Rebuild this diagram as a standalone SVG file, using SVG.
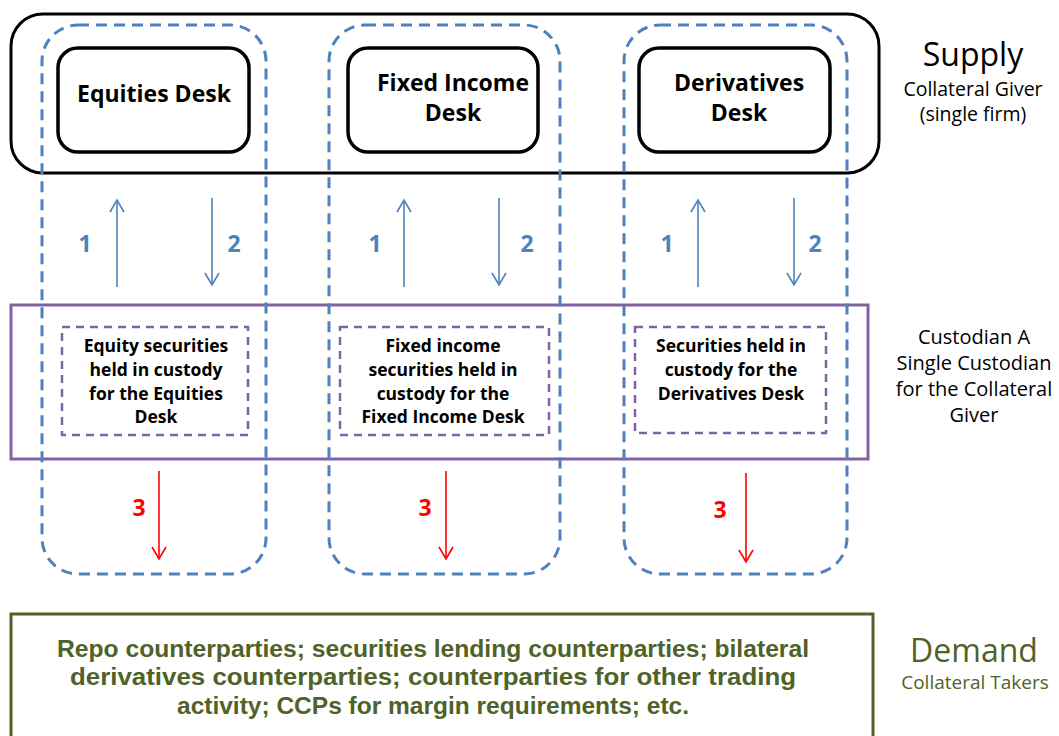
<svg xmlns="http://www.w3.org/2000/svg" width="1059" height="736" viewBox="0 0 1059 736">
<defs>
<style>
.desk{fill:#fff;stroke:#000;stroke-width:3.5}
.col{fill:none;stroke:#4F81BD;stroke-width:3;stroke-dasharray:11 7}
.inner{fill:none;stroke:#8064A2;stroke-width:2.5;stroke-dasharray:8 6}
.dt{font-family:"Open Sans","DejaVu Sans",sans-serif;font-weight:bold;font-size:23px;fill:#000;text-anchor:middle}
.it{font-family:"Open Sans","DejaVu Sans",sans-serif;font-weight:bold;font-size:17.5px;fill:#000;text-anchor:middle}
.side{font-family:"Open Sans","DejaVu Sans",sans-serif;fill:#000;text-anchor:middle}
.bl{font-family:"Open Sans","DejaVu Sans",sans-serif;font-weight:bold;font-size:23px;fill:#4F81BD;text-anchor:middle}
.rl{font-family:"Open Sans","DejaVu Sans",sans-serif;font-weight:bold;font-size:23px;fill:#FF0000;text-anchor:middle}
.ba{stroke:#4F81BD;stroke-width:1.6;fill:none;marker-end:url(#ab)}
.ra{stroke:#FF0000;stroke-width:1.6;fill:none;marker-end:url(#ar)}
.dem{font-family:"Liberation Sans","Open Sans",sans-serif;font-weight:bold;font-size:23px;fill:#4F6228;text-anchor:middle}
</style>
<marker id="ab" viewBox="0 0 16 16" refX="14" refY="8" markerWidth="16" markerHeight="16" markerUnits="userSpaceOnUse" orient="auto"><path d="M2 1 L14 8 L2 15" fill="none" stroke="#4F81BD" stroke-width="1.6"/></marker>
<marker id="ar" viewBox="0 0 16 16" refX="14" refY="8" markerWidth="16" markerHeight="16" markerUnits="userSpaceOnUse" orient="auto"><path d="M2 1 L14 8 L2 15" fill="none" stroke="#FF0000" stroke-width="1.6"/></marker>
</defs>
<rect width="1059" height="736" fill="#fff"/>

<g id="supply">
<rect x="11" y="14" width="868" height="159" rx="32" fill="none" stroke="#000" stroke-width="3"/>
<text class="side" x="973" y="66" font-size="32">Supply</text>
<text class="side" x="973" y="96" font-size="19.5">Collateral Giver</text>
<text class="side" x="973" y="121" font-size="19.5">(single firm)</text>
</g>

<g id="custodian">
<rect x="11" y="305" width="857" height="154" fill="none" stroke="#8064A2" stroke-width="3"/>
<text class="side" x="974" y="344" font-size="20">Custodian A</text>
<text class="side" x="974" y="370" font-size="20">Single Custodian</text>
<text class="side" x="974" y="396" font-size="20">for the Collateral</text>
<text class="side" x="974" y="422" font-size="20">Giver</text>
</g>

<g id="demand">
<rect x="11" y="614" width="862" height="140" fill="none" stroke="#4F6228" stroke-width="3"/>
<text class="dem" x="433" y="657" textLength="752" lengthAdjust="spacingAndGlyphs">Repo counterparties; securities lending counterparties; bilateral</text>
<text class="dem" x="433" y="685" textLength="726" lengthAdjust="spacingAndGlyphs">derivatives counterparties; counterparties for other trading</text>
<text class="dem" x="433" y="714" textLength="512" lengthAdjust="spacingAndGlyphs">activity; CCPs for margin requirements; etc.</text>
<text class="side" x="974" y="662" font-size="32" style="fill:#4F6228">Demand</text>
<text class="side" x="975" y="689" font-size="19" style="fill:#4F6228">Collateral Takers</text>
</g>

<g id="col-equities">
<rect class="col" x="42" y="25" width="224" height="549" rx="36"/>
</g>
<g id="col-fixed">
<rect class="col" x="329" y="25" width="231" height="549" rx="36"/>
</g>
<g id="col-derivatives">
<rect class="col" x="624" y="25" width="223" height="549" rx="36"/>
</g>

<g id="equities-desk">
<rect class="desk" x="58" y="48" width="191" height="104" rx="20"/>
<text class="dt" x="154" y="102">Equities Desk</text>
</g>
<g id="fixed-income-desk">
<rect class="desk" x="348" y="48" width="190" height="104" rx="20"/>
<text class="dt" x="453" y="91">Fixed Income</text>
<text class="dt" x="453" y="121">Desk</text>
</g>
<g id="derivatives-desk">
<rect class="desk" x="639" y="48" width="191" height="104" rx="20"/>
<text class="dt" x="739" y="91">Derivatives</text>
<text class="dt" x="739" y="121">Desk</text>
</g>

<g id="equity-custody">
<rect class="inner" x="62" y="327" width="186" height="108"/>
<text class="it" x="156" y="352">Equity securities</text>
<text class="it" x="156" y="376">held in custody</text>
<text class="it" x="156" y="400">for the Equities</text>
<text class="it" x="156" y="423">Desk</text>
</g>
<g id="fixed-custody">
<rect class="inner" x="340" y="327" width="209" height="108"/>
<text class="it" x="443" y="352">Fixed income</text>
<text class="it" x="443" y="376">securities held in</text>
<text class="it" x="443" y="400">custody for the</text>
<text class="it" x="443" y="423">Fixed Income Desk</text>
</g>
<g id="derivatives-custody">
<rect class="inner" x="635" y="327" width="191" height="106"/>
<text class="it" x="731" y="352">Securities held in</text>
<text class="it" x="731" y="376">custody for the</text>
<text class="it" x="731" y="400">Derivatives Desk</text>
</g>

<g id="connectors">
<line class="ba" x1="117" y1="287" x2="117" y2="200"/>
<line class="ba" x1="212" y1="198" x2="212" y2="285"/>
<line class="ba" x1="404" y1="287" x2="404" y2="200"/>
<line class="ba" x1="499" y1="198" x2="499" y2="285"/>
<line class="ba" x1="698" y1="287" x2="698" y2="200"/>
<line class="ba" x1="794" y1="198" x2="794" y2="285"/>
<line class="ra" x1="159" y1="471" x2="159" y2="559"/>
<line class="ra" x1="446" y1="471" x2="446" y2="559"/>
<line class="ra" x1="746" y1="473" x2="746" y2="562"/>
<text class="bl" x="85" y="252">1</text>
<text class="bl" x="234" y="252">2</text>
<text class="bl" x="375" y="252">1</text>
<text class="bl" x="527" y="252">2</text>
<text class="bl" x="667" y="252">1</text>
<text class="bl" x="815" y="252">2</text>
<text class="rl" x="139" y="516">3</text>
<text class="rl" x="425" y="516">3</text>
<text class="rl" x="720" y="518">3</text>
</g>
</svg>
